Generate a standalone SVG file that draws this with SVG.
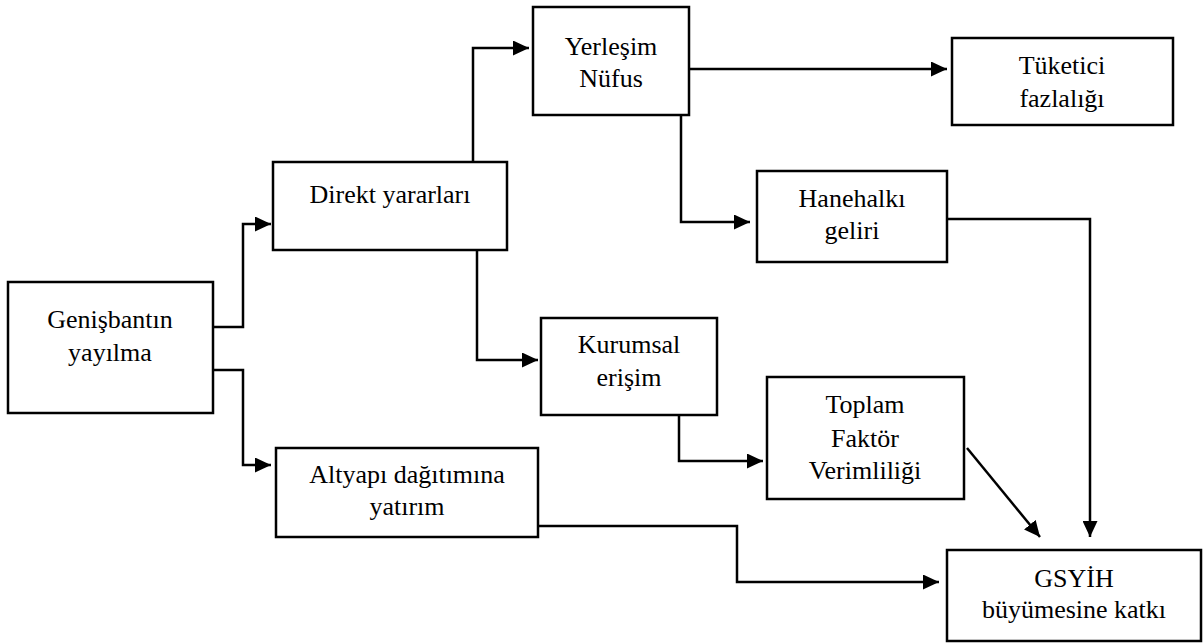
<svg xmlns="http://www.w3.org/2000/svg" width="1203" height="643" viewBox="0 0 1203 643">
<style>
.box{fill:#fff;stroke:#000;stroke-width:2.5}
.t{font-family:"Liberation Serif","Times New Roman",serif;font-size:26px;fill:#000;text-anchor:middle}
.c{fill:none;stroke:#000;stroke-width:2.5;marker-end:url(#ah)}
</style>
<defs>
<marker id="ah" markerUnits="userSpaceOnUse" markerWidth="16" markerHeight="15" refX="16" refY="7.5" orient="auto">
<path d="M0,0 L16,7.5 L0,15 z" fill="#000"/>
</marker>
</defs>
<rect width="1203" height="643" fill="#fff"/>
<g id="connectors">
<polyline class="c" points="213,327 243,327 243,224 271,224"/>
<polyline class="c" points="213,370 243,370 243,465 271,465"/>
<polyline class="c" points="473,162 473,48 529,48"/>
<polyline class="c" points="477,249 477,360 538,360"/>
<polyline class="c" points="689,69 947,69"/>
<polyline class="c" points="681,115 681,222 750,222"/>
<polyline class="c" points="947,219 1090,219 1090,537"/>
<polyline class="c" points="679,415 679,461 763,461"/>
<polyline class="c" points="967,448 1040,537"/>
<polyline class="c" points="533,526 737,526 737,582 939,582"/>
</g>
<g id="genisbant">
<rect class="box" x="8" y="282" width="205" height="131"/>
<text class="t" x="110" y="328">Genişbantın</text>
<text class="t" x="110" y="361">yayılma</text>
</g>
<g id="direkt">
<rect class="box" x="273" y="162" width="234" height="88"/>
<text class="t" x="390" y="203">Direkt yararları</text>
</g>
<g id="yerlesim">
<rect class="box" x="533" y="7" width="156" height="108"/>
<text class="t" x="611" y="55">Yerleşim</text>
<text class="t" x="611" y="87">Nüfus</text>
</g>
<g id="tuketici">
<rect class="box" x="952" y="38" width="221" height="87"/>
<text class="t" x="1062" y="74">Tüketici</text>
<text class="t" x="1062" y="107">fazlalığı</text>
</g>
<g id="hanehalki">
<rect class="box" x="757" y="171" width="190" height="91"/>
<text class="t" x="852" y="207">Hanehalkı</text>
<text class="t" x="852" y="239">geliri</text>
</g>
<g id="kurumsal">
<rect class="box" x="541" y="318" width="176" height="97"/>
<text class="t" x="629" y="353">Kurumsal</text>
<text class="t" x="629" y="386">erişim</text>
</g>
<g id="toplam">
<rect class="box" x="767" y="377" width="197" height="122"/>
<text class="t" x="865" y="413">Toplam</text>
<text class="t" x="865" y="447">Faktör</text>
<text class="t" x="865" y="479">Verimliliği</text>
</g>
<g id="altyapi">
<rect class="box" x="276" y="448" width="262" height="89"/>
<text class="t" x="407" y="483">Altyapı dağıtımına</text>
<text class="t" x="407" y="515">yatırım</text>
</g>
<g id="gsyih">
<rect class="box" x="947" y="550" width="254" height="91"/>
<text class="t" x="1074" y="587">GSYİH</text>
<text class="t" x="1074" y="618">büyümesine katkı</text>
</g>
</svg>
